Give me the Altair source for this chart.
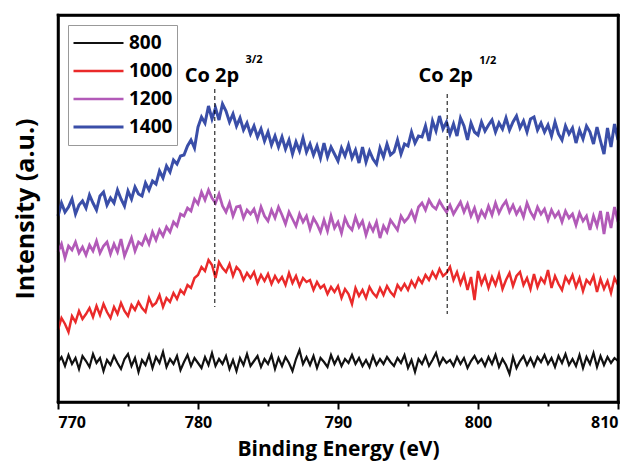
import altair as alt
import pandas as pd

# Binding energy grid (eV), 0.25 eV sampling from 770 to 810
energy = [770 + 0.25 * i for i in range(161)]

series_names = ["800", "1000", "1200", "1400"]
series_colors = ["#111111", "#ea2a2a", "#b25ab8", "#3a4ea8"]
series_widths = [2.2, 3.0, 3.0, 3.0]

int_800 = [40, 45, 36, 47, 38, 44, 33, 46, 41, 35, 48, 39, 44, 31, 42, 37,
           46, 39, 33, 43, 48, 36, 44, 30, 42, 37, 47, 34, 45, 39, 50, 35,
           43, 38, 46, 32, 40, 47, 36, 44, 39, 34, 45, 37, 49, 36, 43, 38,
           46, 33, 42, 31, 44, 37, 48, 36, 41, 46, 35, 43, 38, 47, 33, 44,
           36, 45, 39, 31, 43, 52, 38, 45, 37, 46, 34, 44, 40, 35, 47, 38,
           45, 36, 43, 39, 47, 38, 44, 36, 42, 35, 46, 37, 43, 38, 45, 40,
           36, 44, 39, 47, 34, 42, 30, 43, 38, 46, 36, 42, 49, 37, 44, 39,
           42, 36, 45, 38, 44, 34, 41, 46, 39, 43, 36, 45, 38, 47, 35, 43,
           37, 28, 45, 34, 41, 46, 37, 44, 36, 45, 40, 47, 38, 44, 35, 46,
           39, 48, 37, 43, 36, 47, 34, 45, 38, 49, 35, 46, 37, 45, 39, 44,
           41]

int_1000 = [72, 84, 78, 70, 86, 80, 91, 83, 88, 94, 85, 96, 87, 98, 90, 84,
            95, 88, 99, 91, 86, 97, 92, 100, 94, 90, 104, 96, 99, 107, 95, 104,
            100, 109, 103, 112, 108, 117, 114, 124, 127, 135, 131, 142, 137, 124, 140, 134,
            130, 138, 126, 135, 131, 122, 129, 124, 130, 119, 127, 121, 128, 118, 126, 120,
            125, 117, 129, 119, 126, 116, 124, 120, 122, 112, 120, 114, 117, 108, 115, 110,
            116, 104, 113, 108, 98, 114, 106, 112, 104, 115, 109, 105, 114, 107, 116, 110,
            106, 117, 112, 118, 112, 121, 115, 124, 119, 127, 122, 130, 124, 133, 126, 129,
            135, 122, 130, 118, 127, 112, 125, 102, 131, 118, 126, 114, 125, 117, 128, 113,
            122, 129, 116, 126, 130, 117, 124, 113, 128, 115, 124, 119, 132, 114, 126, 118,
            112, 125, 119, 127, 115, 124, 111, 122, 118, 126, 110, 123, 113, 121, 109, 124,
            117]

int_1200 = [150, 158, 144, 156, 152, 160, 149, 155, 147, 157, 151, 161, 149, 156, 160, 148,
            158, 150, 163, 146, 155, 164, 151, 160, 157, 166, 158, 170, 162, 172, 166, 175,
            170, 180, 176, 188, 186, 194, 191, 203, 198, 210, 202, 212, 204, 199, 208, 196,
            190, 199, 186, 195, 196, 184, 192, 188, 193, 182, 195, 186, 181, 192, 184, 195,
            187, 178, 190, 183, 176, 188, 180, 186, 173, 184, 178, 170, 182, 171, 186, 174,
            180, 169, 184, 176, 172, 185, 175, 181, 167, 178, 171, 180, 164, 176, 170, 182,
            177, 172, 186, 180, 184, 191, 182, 195, 199, 192, 202, 196, 193, 201, 195, 190,
            197, 188, 194, 200, 190, 198, 186, 194, 182, 191, 185, 196, 187, 199, 189, 196,
            201, 190, 197, 188, 194, 185, 199, 190, 184, 195, 188, 193, 182, 192, 185, 190,
            180, 191, 184, 188, 177, 189, 181, 186, 172, 186, 176, 191, 168, 190, 174, 195,
            180]

int_1400 = [186, 199, 190, 195, 203, 188, 197, 201, 194, 207, 199, 192, 206, 210, 197, 204,
            199, 212, 203, 196, 211, 203, 215, 208, 206, 219, 212, 221, 218, 231, 224, 236,
            230, 242, 238, 246, 247, 256, 262, 254, 275, 285, 279, 296, 283, 294, 282, 298,
            291, 280, 288, 276, 284, 272, 279, 268, 276, 265, 273, 261, 270, 257, 266, 255,
            265, 253, 262, 248, 260, 251, 264, 250, 258, 247, 256, 244, 259, 245, 255, 248,
            241, 254, 246, 257, 244, 252, 239, 255, 240, 251, 243, 238, 254, 245, 258, 247,
            250, 262, 248, 258, 256, 270, 259, 266, 265, 276, 261, 281, 271, 286, 273, 280,
            268, 278, 266, 284, 276, 262, 279, 270, 267, 280, 271, 277, 282, 270, 279, 273,
            284, 272, 280, 286, 274, 281, 270, 283, 285, 272, 279, 270, 277, 266, 280, 268,
            262, 276, 268, 274, 259, 272, 263, 276, 270, 258, 275, 261, 248, 274, 255, 278,
            262]

# Peak annotations
peak_labels = ["Co 2p", "Co 2p"]
peak_label_x = [781.0, 797.7]
peak_label_y = [320, 320]
peak_sup = ["3/2", "1/2"]
peak_sup_x = [784.0, 800.7]
peak_sup_y = [339, 338]
peak_line_x = [781.2, 797.8]
peak_line_top = [313, 308]
peak_line_bottom = [95, 88]

x_major = [770, 780, 790, 800, 810]
x_minor = [775, 785, 795, 805]

# plot frame: bottom, top, left, right edges in data units
frame_x1 = [770, 770, 770, 810]
frame_x2 = [810, 810, 770, 810]
frame_y1 = [0, 387, 0, 0]
frame_y2 = [0, 387, 387, 387]

rows = []
for name, vals in zip(series_names, [int_800, int_1000, int_1200, int_1400]):
    for e, v in zip(energy, vals):
        rows.append({"energy": e, "intensity": v, "sample": name})
df = pd.DataFrame(rows)

ann_df = pd.DataFrame({"x": peak_label_x, "y": peak_label_y, "t": peak_labels})
sup_df = pd.DataFrame({"x": peak_sup_x, "y": peak_sup_y, "t": peak_sup})
rule_df = pd.DataFrame({"x": peak_line_x, "y": peak_line_top, "y2": peak_line_bottom})
frame_df = pd.DataFrame({"x": frame_x1, "x2": frame_x2, "y": frame_y1, "y2": frame_y2})

FONT = "Open Sans"
xscale = alt.Scale(domain=[770, 810], nice=False, zero=False)
yscale = alt.Scale(domain=[0, 387], nice=False, zero=False)
DOM = dict(domain=True, domainColor="black", domainWidth=2.5, domainCap="square")

lines = alt.Chart(df).mark_line().encode(
    x=alt.X("energy:Q", scale=xscale,
            axis=alt.Axis(values=x_major, format="d", title="Binding Energy (eV)",
                          orient="bottom", grid=False, tickSize=7, tickWidth=2,
                          tickColor="black", labelFontSize=16,
                          labelFont=FONT, labelFontWeight="bold", labelColor="black",
                          labelPadding=5, titleFontSize=21, titleFont=FONT,
                          titleFontWeight="bold", titleColor="black", titlePadding=8, **DOM)),
    y=alt.Y("intensity:Q", scale=yscale,
            axis=alt.Axis(title="Intensity (a.u.)", labels=False, ticks=False, orient="left",
                          grid=False, titleFontSize=25, titleFont=FONT, titleFontWeight="bold",
                          titleColor="black", titlePadding=20, **DOM)),
    color=alt.Color("sample:N", sort=series_names,
                    scale=alt.Scale(domain=series_names, range=series_colors),
                    legend=alt.Legend(orient="none", legendX=10, legendY=10, title=None,
                                      symbolType="stroke", symbolSize=2500, symbolStrokeWidth=2,
                                      clipHeight=28, labelFontSize=19, labelFont=FONT,
                                      labelFontWeight="bold", labelColor="black",
                                      strokeColor="#999999", fillColor="white", padding=4,
                                      rowPadding=0, labelOffset=4)),
    strokeWidth=alt.StrokeWidth("sample:N", sort=series_names,
                                scale=alt.Scale(domain=series_names, range=series_widths),
                                legend=None),
    detail="sample:N",
)

rules = alt.Chart(rule_df).mark_rule(color="black", strokeWidth=1, strokeDash=[4, 3]).encode(
    x=alt.X("x:Q", scale=xscale,
            axis=alt.Axis(values=x_minor, labels=False, title=None, orient="bottom", grid=False,
                          tickSize=4, tickWidth=2, tickColor="black", domain=False)),
    y=alt.Y("y:Q", scale=yscale, axis=None),
    y2="y2:Q",
)

labels = alt.Chart(ann_df).mark_text(font=FONT, fontSize=20, fontWeight="bold", color="black",
                                     baseline="alphabetic", align="center").encode(
    x=alt.X("x:Q", scale=xscale, axis=None),
    y=alt.Y("y:Q", scale=yscale, axis=None),
    text="t:N",
)

sups = alt.Chart(sup_df).mark_text(font=FONT, fontSize=11, fontWeight="bold", color="black",
                                   baseline="alphabetic", align="center").encode(
    x=alt.X("x:Q", scale=xscale, axis=None),
    y=alt.Y("y:Q", scale=yscale, axis=None),
    text="t:N",
)

frame = alt.Chart(frame_df).mark_rule(color="black", strokeWidth=2.5,
                                      strokeCap="square").encode(
    x=alt.X("x:Q", scale=xscale,
            axis=alt.Axis(orient="top", labels=False, ticks=False, title=None, grid=False, **DOM)),
    x2="x2:Q",
    y=alt.Y("y:Q", scale=yscale,
            axis=alt.Axis(orient="right", labels=False, ticks=False, title=None, grid=False, **DOM)),
    y2="y2:Q",
)

chart = alt.layer(lines, rules, labels, sups, frame).resolve_axis(
    x="independent", y="independent"
).properties(
    width=560, height=387,
    padding={"left": 5, "top": 5, "right": 1, "bottom": 2},
    background="white",
).configure_view(stroke=None)

chart.save("out.html", embed_options={"renderer": "svg", "actions": False})
